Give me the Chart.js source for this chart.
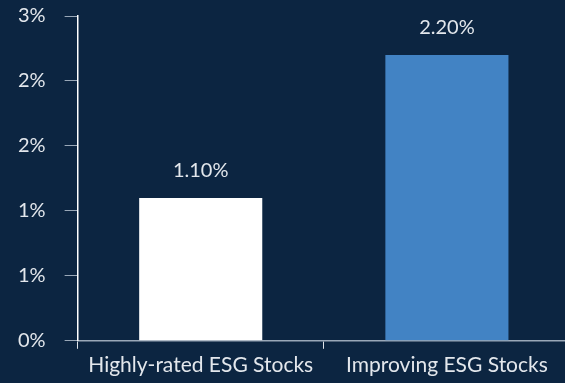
<!DOCTYPE html>
<html>
<head>
<meta charset="utf-8">
<script src="https://cdn.jsdelivr.net/npm/chart.js@4"></script>
<style>
  html, body { margin: 0; padding: 0; background: #0c2541; overflow: hidden; }
  #wrap { width: 570px; height: 383px; }
</style>
</head>
<body>
<div id="wrap"><canvas id="esgchart"></canvas></div>
<script>
const categories = ['Highly-rated ESG Stocks', 'Improving ESG Stocks'];
const returns = [1.1, 2.2];
const valueLabels = ['1.10%', '2.20%'];
const barColors = ['#ffffff', '#4283c4'];
const tickLabels = ['0%', '1%', '1%', '2%', '2%', '3%'];

const textColor = '#e3e7ec';

// writes the value above each bar
const barValues = {
  id: 'barValues',
  afterDatasetsDraw(chart) {
    const c = chart.ctx;
    const meta = chart.getDatasetMeta(0);
    c.save();
    c.font = '20px Lato';
    c.fillStyle = textColor;
    c.textAlign = 'center';
    c.textBaseline = 'bottom';
    meta.data.forEach((bar, i) => {
      c.fillText(valueLabels[i], bar.x, bar.y - 17);
    });
    c.restore();
  }
};

const ctx = document.getElementById('esgchart').getContext('2d');

const esgchart = new Chart(ctx, {
  type: 'bar',
  data: {
    labels: categories,
    datasets: [{
      data: returns,
      backgroundColor: barColors,
      borderWidth: 0,
      barPercentage: 0.5,
      categoryPercentage: 1
    }]
  },
  options: {
    responsive: true,
    maintainAspectRatio: false,
    animation: false,
    layout: { padding: { left: -1, top: 0, right: 0, bottom: 1 } },
    plugins: {
      legend: { display: false },
      tooltip: { enabled: false }
    },
    scales: {
      x: {
        border: { display: true, color: '#9aa8b8', width: 1.5 },
        grid: { drawOnChartArea: false, drawTicks: true, tickLength: 8, color: '#dfe4ea' },
        ticks: { color: textColor, font: { family: 'Lato', size: 21 }, padding: 4 }
      },
      y: {
        min: 0,
        max: 2.5,
        border: { display: true, color: '#ffffff', width: 1.5 },
        grid: { drawOnChartArea: false, drawTicks: true, tickLength: 13, color: '#9aa8b8' },
        ticks: {
          stepSize: 0.5,
          color: textColor,
          font: { family: 'Lato', size: 20 },
          padding: 19,
          callback: (value, index) => tickLabels[index]
        },
        // the wide label gap should not push the plot down
        afterFit(scale) {
          scale.paddingTop = 16;
          scale.paddingBottom = 12;
        }
      }
    }
  },
  plugins: [barValues]
});
</script>
</body>
</html>
